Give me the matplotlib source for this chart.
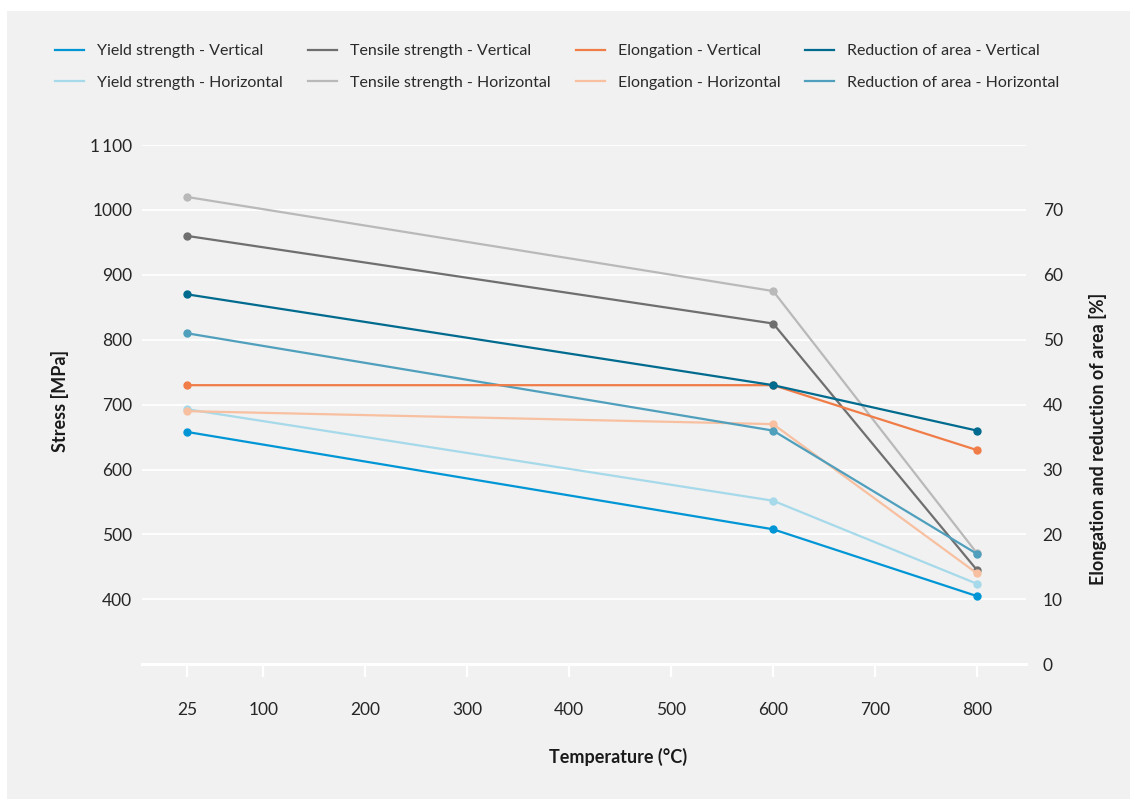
import numpy as np
import matplotlib.pyplot as plt
from matplotlib.lines import Line2D
from matplotlib.patches import Rectangle

plt.rcParams["font.family"] = ["Lato", "DejaVu Sans"]

# temperatures (°C)
temperature = [25, 600, 800]

# stress series (MPa), left axis
yield_vertical = [658, 508, 405]
yield_horizontal = [693, 552, 424]
tensile_vertical = [960, 825, 445]
tensile_horizontal = [1020, 875, 471]

# percent series, right axis
elongation_vertical = [43, 43, 33]
elongation_horizontal = [39, 37, 14]
reduction_vertical = [57, 43, 36]
reduction_horizontal = [51, 36, 17]

x_ticks = [25, 100, 200, 300, 400, 500, 600, 700, 800]
stress_ticks = [400, 500, 600, 700, 800, 900, 1000, 1100]
stress_tick_labels = ["400", "500", "600", "700", "800", "900", "1000", "1\u2009100"]
percent_ticks = [0, 10, 20, 30, 40, 50, 60, 70]

colors = {
    "yv": "#0096d6",
    "yh": "#a6d9ea",
    "tv": "#6f6f6f",
    "th": "#b9b9b9",
    "ev": "#f07c48",
    "eh": "#f8c0a0",
    "rv": "#006b8f",
    "rh": "#4f9fbd",
}

W, H = 1130, 799
fig = plt.figure(figsize=(W / 100, H / 100), dpi=100, facecolor="white")

# light grey panel behind everything
fig.patches.append(
    Rectangle((7 / W, 0), 1 - 7 / W, (H - 11) / H, transform=fig.transFigure,
              facecolor="#f0f1f0", edgecolor="none", zorder=-10)
)

left, right = 142 / W, 1026 / W
bottom, top = (H - 664.3) / H, (H - 145) / H
ax = fig.add_axes([left, bottom, right - left, top - bottom])
ax.set_facecolor("none")
ax2 = ax.twinx()
ax2.set_facecolor("none")

lw = 1.6
ms = 5
ax.plot(temperature, yield_vertical, color=colors["yv"], lw=lw, marker="o", ms=ms)
ax.plot(temperature, yield_horizontal, color=colors["yh"], lw=lw, marker="o", ms=ms)
ax.plot(temperature, tensile_vertical, color=colors["tv"], lw=lw, marker="o", ms=ms)
ax.plot(temperature, tensile_horizontal, color=colors["th"], lw=lw, marker="o", ms=ms)
ax2.plot(temperature, elongation_horizontal, color=colors["eh"], lw=lw, marker="o", ms=ms)
ax2.plot(temperature, reduction_horizontal, color=colors["rh"], lw=lw, marker="o", ms=ms)
ax2.plot(temperature, elongation_vertical, color=colors["ev"], lw=lw, marker="o", ms=ms)
ax2.plot(temperature, reduction_vertical, color=colors["rv"], lw=lw, marker="o", ms=ms)

ax.set_xlim(-19, 848)
ax.set_ylim(300, 1100)
ax2.set_ylim(0, 80)

ax.set_yticks(stress_ticks)
ax.set_yticklabels(stress_tick_labels)
ax2.set_yticks(percent_ticks)
ax.set_xticks(x_ticks)

# white horizontal grid
ax.grid(axis="y", color="white", lw=1.3)
ax.grid(axis="x", visible=False)
ax.set_axisbelow(True)

for a in (ax, ax2):
    for s in ("top", "left", "right", "bottom"):
        a.spines[s].set_visible(False)
ax.spines["bottom"].set_visible(True)
ax.spines["bottom"].set_color("white")
ax.spines["bottom"].set_linewidth(2.2)

ax.tick_params(axis="x", colors="white", length=9.5, width=1.6, pad=17.5,
               labelcolor="#262626", labelsize=12.5)
ax.tick_params(axis="y", length=0, pad=7, labelcolor="#262626", labelsize=12.5)
ax2.tick_params(axis="y", length=0, pad=12, labelcolor="#262626", labelsize=12.5)

ax.set_xlabel("Temperature (°C)", fontsize=13, fontweight="bold", color="#1a1a1a")
ax.xaxis.set_label_coords((618 - 142) / 884, -(748 - 664.3) / 519.3)
ax.set_ylabel("Stress [MPa]", fontsize=13, fontweight="bold", color="#1a1a1a")
ax.yaxis.set_label_coords(-(142 - 69) / 884, (664.3 - 401) / 519.3)
ax2.set_ylabel("Elongation and reduction of area [%]", fontsize=13,
               fontweight="bold", color="#1a1a1a")
ax2.yaxis.set_label_coords((1089 - 142) / 884, (664.3 - 439) / 519.3)

labels = [
    "Yield strength - Vertical", "Yield strength - Horizontal",
    "Tensile strength - Vertical", "Tensile strength - Horizontal",
    "Elongation - Vertical", "Elongation - Horizontal",
    "Reduction of area - Vertical", "Reduction of area - Horizontal",
]
keys = ["yv", "yh", "tv", "th", "ev", "eh", "rv", "rh"]
handles = [Line2D([], [], color=colors[k], lw=lw) for k in keys]
fs = 11.5
px = fs * 1.389
leg = fig.legend(handles, labels, ncol=4, loc="upper left",
                 bbox_to_anchor=(60 / W - 0.004, 1 - 44 / H), frameon=False,
                 fontsize=fs, handlelength=29 / px,
                 handletextpad=13 / px, columnspacing=25 / px,
                 labelspacing=1.1, borderaxespad=0, borderpad=0)
for t in leg.get_texts():
    t.set_color("#2a2a2a")

fig.savefig("out.png", dpi=100, facecolor=fig.get_facecolor())
